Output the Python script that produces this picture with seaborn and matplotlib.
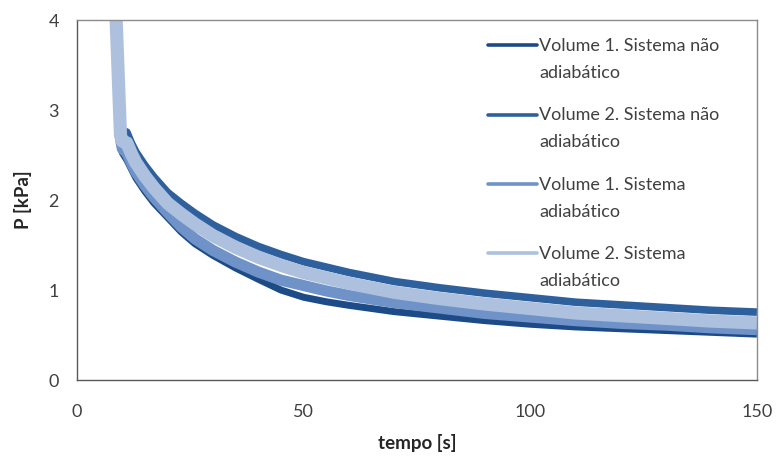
import numpy as np
import pandas as pd
import matplotlib
matplotlib.use("Agg")
import matplotlib.pyplot as plt
import seaborn as sns
from matplotlib.legend_handler import HandlerLine2D

# ---- data ----
tempo = [8.2, 9.6, 10, 11, 12, 13, 15, 17, 20, 23, 26, 30, 35, 40, 45, 50, 55, 60,
         70, 80, 90, 100, 110, 120, 130, 140, 150]
v1_nao_adiab = [4.6, 2.65, 2.525, 2.445, 2.345, 2.245, 2.095, 1.965, 1.805, 1.645, 1.515,
                1.385, 1.245, 1.12, 1.00, 0.92, 0.87, 0.83, 0.76, 0.71, 0.66,
                0.62, 0.59, 0.57, 0.55, 0.53, 0.51]
v2_nao_adiab = [4.6, 2.85, 2.775, 2.755, 2.635, 2.535, 2.385, 2.255, 2.085, 1.965, 1.855,
                1.725, 1.595, 1.485, 1.395, 1.315, 1.255, 1.195, 1.095, 1.025, 0.965,
                0.915, 0.865, 0.835, 0.805, 0.775, 0.755]
v1_adiab = [4.6, 2.68, 2.57, 2.52, 2.41, 2.31, 2.16, 2.03, 1.86, 1.70, 1.57,
            1.44, 1.31, 1.20, 1.11, 1.05, 0.99, 0.94, 0.86, 0.80, 0.74,
            0.70, 0.66, 0.63, 0.61, 0.58, 0.56]
v2_adiab = [4.6, 2.72, 2.655, 2.635, 2.515, 2.415, 2.265, 2.135, 1.965, 1.845, 1.735,
            1.605, 1.475, 1.365, 1.275, 1.195, 1.135, 1.075, 0.975, 0.905, 0.845,
            0.795, 0.745, 0.715, 0.685, 0.655, 0.635]

labels = ["Volume 1. Sistema não\nadiabático",
          "Volume 2. Sistema não\nadiabático",
          "Volume 1. Sistema\nadiabático",
          "Volume 2. Sistema\nadiabático"]
series = [v1_nao_adiab, v2_nao_adiab, v1_adiab, v2_adiab]
colors = ["#1d4b87", "#2e609d", "#6f93c8", "#adc1df"]
widths = [5.0, 5.5, 8.0, 9.5]

x_ticks = [0, 50, 100, 150]
y_ticks = [0, 1, 2, 3, 4]

sns.set_style("white")
plt.rcParams["font.family"] = ["Lato", "DejaVu Sans"]

fig = plt.figure(figsize=(7.79, 4.59), dpi=100)
ax = fig.add_axes([0.0988, 0.172, 0.8729, 0.7843])

handles = []
for lab, ys, c, w in zip(labels, series, colors, widths):
    d = pd.DataFrame({"tempo": tempo, "P": ys})
    sns.lineplot(data=d, x="tempo", y="P", ax=ax, color=c, linewidth=w,
                 solid_capstyle="butt", solid_joinstyle="round")
    h = plt.Line2D([], [], color=c, linewidth=2.6)
    handles.append(h)

ax.set_xlim(0, 150)
ax.set_ylim(0, 4)
ax.set_xticks(x_ticks)
ax.set_yticks(y_ticks)
ax.set_xlabel("tempo [s]", fontsize=13.5, fontweight="bold", color="#262626", labelpad=10)
ax.set_ylabel("P [kPa]", fontsize=13.5, fontweight="bold", color="#262626", labelpad=12)
ax.tick_params(axis="x", direction="inout", length=10, width=1, color="#595959",
               labelsize=13, labelcolor="#404040", pad=12)
ax.tick_params(axis="y", direction="out", length=5, width=1, color="#595959",
               labelsize=13, labelcolor="#404040", pad=8)
for s in ax.spines.values():
    s.set_color("#8c8c8c")
    s.set_linewidth(1.0)
    s.set_visible(True)
ax.spines["left"].set_color("#595959")
ax.spines["bottom"].set_color("#595959")

LINE_SHIFT = 10.4  # points: move handle up to the first text line


class TopHandler(HandlerLine2D):
    def create_artists(self, legend, orig_handle, xdescent, ydescent, width,
                       height, fontsize, trans):
        arts = super().create_artists(legend, orig_handle, xdescent, ydescent,
                                      width, height, fontsize, trans)
        for a in arts:
            yd = np.asarray(a.get_ydata(), dtype=float)
            a.set_ydata(yd + LINE_SHIFT)
        return arts


leg = ax.legend(handles, labels, loc="upper left", bbox_to_anchor=(0.591, 0.975),
                frameon=False, fontsize=13, handlelength=2.7, handletextpad=0.15,
                labelspacing=1.45, borderpad=0, labelcolor="#404040",
                handler_map={plt.Line2D: TopHandler()})
for t in leg.get_texts():
    t.set_linespacing(1.85)

fig.savefig("out.png", dpi=100)
